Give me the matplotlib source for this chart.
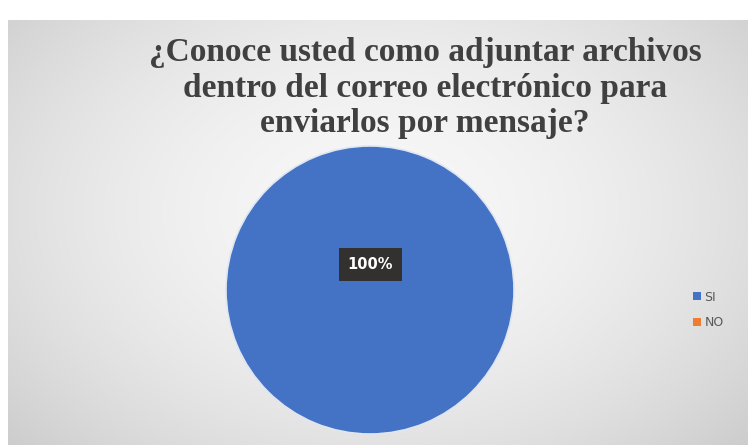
import numpy as np
import matplotlib
matplotlib.use("Agg")
import matplotlib.pyplot as plt
from matplotlib.patches import Patch

# Survey answers
categories = ["SI", "NO"]
values = [100, 0]
colors = ["#4472C4", "#ED7D31"]
title = "¿Conoce usted como adjuntar archivos\ndentro del correo electrónico para\nenviarlos por mensaje?"

W, H = 748, 445
fig = plt.figure(figsize=(W / 100, H / 100), dpi=100)
fig.patch.set_facecolor("white")

# Chart area with a soft radial gradient background
bx0, by0 = 8 / W, 0
bw, bh = (W - 8) / W, (H - 20) / H
bg = fig.add_axes([bx0, by0, bw, bh])
yy, xx = np.mgrid[0:1:300j, 0:1:500j]
r = np.sqrt(((xx - 0.5) / 0.75) ** 2 + ((yy - 0.45) / 0.9) ** 2)
shade = np.clip(0.97 - 0.2 * r ** 1.8, 0.74, 0.97)
img = np.dstack([shade, shade, shade])
bg.imshow(img, extent=[0, 1, 0, 1], aspect="auto", origin="upper")
bg.set_axis_off()

# Pie
ax = fig.add_axes([(370 - 150) / W, (H - 290 - 150) / H, 300 / W, 300 / H])
ax.set_facecolor("none")
nonzero = [(c, v, col) for c, v, col in zip(categories, values, colors) if v > 0]
wedges, _ = ax.pie([v for _, v, _ in nonzero], colors=[col for _, _, col in nonzero],
                   startangle=90, counterclock=False, radius=0.96,
                   wedgeprops=dict(edgecolor="#dfe6f2", linewidth=1.2))
ax.set_aspect("equal")
ax.set_xlim(-1, 1)
ax.set_ylim(-1, 1)

total = sum(values)
ax.text(0, 0.17, f"{values[0] / total * 100:.0f}%", ha="center", va="center",
        color="white", fontsize=10.5, fontweight="bold", family="DejaVu Sans",
        bbox=dict(boxstyle="square,pad=0.6", facecolor="#333030", edgecolor="none"))

# Title
fig.text(425 / W, 1 - 88 / H, title, ha="center", va="center", family="Liberation Serif",
         fontweight="bold", fontsize=24, color="#404040", linespacing=1.18)

# Legend
handles = [Patch(facecolor=c, edgecolor="none") for c in colors]
fig.legend(handles, categories, loc="center left", bbox_to_anchor=(682 / W, 1 - 310 / H),
           frameon=False, fontsize=9, handlelength=0.6, handleheight=0.6,
           handletextpad=0.3, labelspacing=1.0, labelcolor="#595959")

fig.savefig("out.png", dpi=100)
